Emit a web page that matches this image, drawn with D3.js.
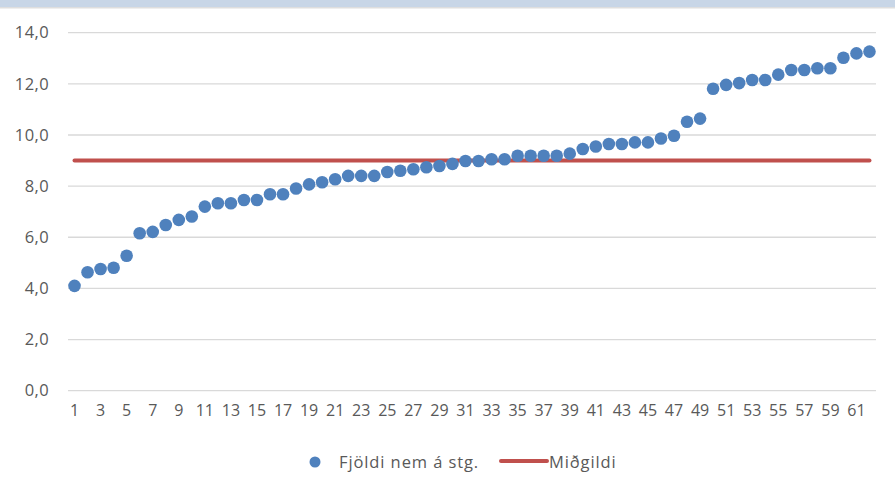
<!DOCTYPE html>
<html>
<head>
<meta charset="utf-8">
<script src="https://cdn.jsdelivr.net/npm/d3@7"></script>
<style>
  html, body { margin: 0; padding: 0; background: #fff; }
  svg { display: block; font-family: "Open Sans", "Noto Sans", sans-serif; }
</style>
</head>
<body>
<svg id="chart" width="895" height="488"></svg>
<script>
// values, one per category (1..62)
const values = [
  4.1, 4.63, 4.76, 4.81, 5.28, 6.16, 6.21, 6.48, 6.68, 6.81,
  7.2, 7.33, 7.33, 7.46, 7.46, 7.68, 7.68, 7.91, 8.07, 8.15,
  8.27, 8.4, 8.4, 8.4, 8.55, 8.6, 8.66, 8.74, 8.79, 8.87,
  8.98, 8.98, 9.05, 9.05, 9.19, 9.19, 9.19, 9.19, 9.27, 9.45,
  9.55, 9.65, 9.65, 9.71, 9.71, 9.86, 9.97, 10.52, 10.64, 11.81,
  11.96, 12.03, 12.15, 12.15, 12.36, 12.54, 12.54, 12.61, 12.61, 13.02,
  13.19, 13.26
];
const categories = values.map((d, i) => i + 1);
const medianValue = 9.0;
const yTicks = [0, 2, 4, 6, 8, 10, 12, 14];
const seriesNames = ["Fjöldi nem á stg.", "Miðgildi"];

const width = 895, height = 488;
const plot = { left: 68, right: 876, top: 32.7, bottom: 390.7 };

const svg = d3.select('#chart');

// light header strip at the very top
svg.append('rect').attr('x', 0).attr('y', 0).attr('width', width).attr('height', 7)
  .attr('fill', '#c8d6e7');
svg.append('rect').attr('x', 0).attr('y', 7).attr('width', width).attr('height', 1.5)
  .attr('fill', '#dedede');

const x = d3.scaleBand().domain(categories).range([plot.left, plot.right]);
const y = d3.scaleLinear().domain([0, 14]).range([plot.bottom, plot.top]);

// gridlines
svg.append('g').selectAll('line').data(yTicks).enter().append('line')
  .attr('x1', plot.left).attr('x2', plot.right)
  .attr('y1', d => y(d)).attr('y2', d => y(d))
  .attr('stroke', '#d9d9d9').attr('stroke-width', 1.3);

// y axis labels
const yAxis = d3.axisLeft(y).tickValues(yTicks).tickSize(0).tickPadding(0)
  .tickFormat(d => d3.format('.1f')(d).replace('.', ','));
const gy = svg.append('g').attr('transform', `translate(49,0)`).call(yAxis);
gy.select('.domain').remove();
gy.selectAll('text').attr('font-size', 16.5).attr('fill', '#595959')
  .attr('letter-spacing', 0.4)
  .attr('font-family', '"Open Sans", sans-serif');

// x axis labels (every other category)
const xAxis = d3.axisBottom(x).tickValues(categories.filter(d => d % 2 === 1))
  .tickSize(0).tickPadding(0);
const gx = svg.append('g').attr('transform', `translate(0,405)`).call(xAxis);
gx.select('.domain').remove();
gx.selectAll('text').attr('font-size', 16).attr('fill', '#595959')
  .attr('font-family', '"Open Sans", sans-serif');

// median line
const cx = d => x(d) + x.bandwidth() / 2;
svg.append('path')
  .datum(categories)
  .attr('d', d3.line().x(d => cx(d)).y(() => y(medianValue)))
  .attr('stroke', '#c0504d').attr('stroke-width', 4).attr('fill', 'none')
  .attr('stroke-linecap', 'round');

// points
svg.append('g').selectAll('circle').data(values).enter().append('circle')
  .attr('cx', (d, i) => cx(categories[i]))
  .attr('cy', d => y(d))
  .attr('r', 6.3)
  .attr('fill', '#4f81bd');

// legend
const lg = svg.append('g').attr('font-size', 16.5).attr('fill', '#595959')
  .attr('letter-spacing', 0.9);
lg.append('circle').attr('cx', 315).attr('cy', 462).attr('r', 5.5).attr('fill', '#4f81bd');
lg.append('text').attr('x', 339).attr('y', 468).text(seriesNames[0]);
lg.append('line').attr('x1', 501).attr('x2', 547).attr('y1', 461).attr('y2', 461)
  .attr('stroke', '#c0504d').attr('stroke-width', 4).attr('stroke-linecap', 'round');
lg.append('text').attr('x', 549).attr('y', 468).text(seriesNames[1]);
</script>
</body>
</html>
